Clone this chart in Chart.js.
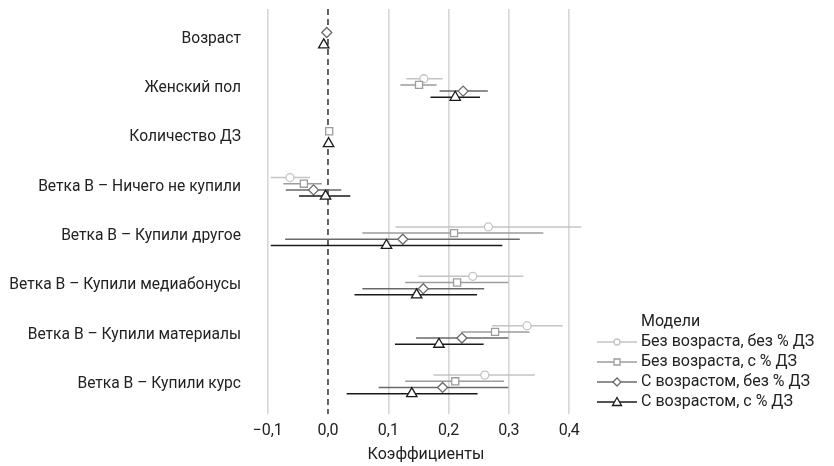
<!DOCTYPE html>
<html>
<head>
<meta charset="utf-8">
<script src="https://cdn.jsdelivr.net/npm/chart.js@4"></script>
<style>
  html, body { margin: 0; padding: 0; background: #fff; }
  #wrap { width: 834px; height: 466px; position: relative; }
</style>
</head>
<body>
<div id="wrap"><canvas id="chart"></canvas></div>
<script>
// categories, top to bottom
const categories = [
  "Возраст",
  "Женский пол",
  "Количество ДЗ",
  "Ветка В – Ничего не купили",
  "Ветка В – Купили другое",
  "Ветка В – Купили медиабонусы",
  "Ветка В – Купили материалы",
  "Ветка В – Купили курс",
];
const xTicks = [-0.1, 0, 0.1, 0.2, 0.3, 0.4];

// model 1: без возраста, без % ДЗ
const m1Est = [null, 0.159, null, -0.063, 0.266, 0.240, 0.330, 0.260];
const m1Lo  = [null, 0.130, null, -0.095, 0.112, 0.150, 0.272, 0.175];
const m1Hi  = [null, 0.190, null, -0.030, 0.420, 0.324, 0.389, 0.343];
// model 2: без возраста, с % ДЗ
const m2Est = [null, 0.151, 0.002, -0.040, 0.209, 0.214, 0.277, 0.211];
const m2Lo  = [null, 0.120, 0.000, -0.074, 0.057, 0.128, 0.221, 0.128];
const m2Hi  = [null, 0.180, 0.004, -0.010, 0.357, 0.299, 0.334, 0.292];
// model 3: с возрастом, без % ДЗ
const m3Est = [-0.002, 0.224, null, -0.024, 0.124, 0.158, 0.222, 0.190];
const m3Lo  = [-0.004, 0.185, null, -0.070, -0.071, 0.057, 0.146, 0.084];
const m3Hi  = [0.000, 0.265, null, 0.022, 0.318, 0.259, 0.299, 0.299];
// model 4: с возрастом, с % ДЗ
const m4Est = [-0.007, 0.211, 0.001, -0.004, 0.097, 0.147, 0.184, 0.139];
const m4Lo  = [-0.009, 0.170, -0.001, -0.048, -0.095, 0.044, 0.111, 0.031];
const m4Hi  = [-0.005, 0.252, 0.003, 0.037, 0.289, 0.247, 0.258, 0.248];

const legendTitle = "Модели";
const modelNames = ["Без возраста, без % ДЗ", "Без возраста, с % ДЗ", "С возрастом, без % ДЗ", "С возрастом, с % ДЗ"];

const FONT = "Roboto, 'Liberation Sans', sans-serif";
const models = [
  { est: m1Est, lo: m1Lo, hi: m1Hi, color: "#c4c4c4", style: "circle", r: 4 },
  { est: m2Est, lo: m2Lo, hi: m2Hi, color: "#9c9c9c", style: "rect", r: 5 },
  { est: m3Est, lo: m3Lo, hi: m3Hi, color: "#6a6a6a", style: "rectRot", r: 5 },
  { est: m4Est, lo: m4Lo, hi: m4Hi, color: "#1a1a1a", style: "triangle", r: 6 },
];

// vertical dodge inside each category (like position_dodge)
const DODGE = 0.5;
function dodgeY(catIdx, modelIdx) {
  const present = models.map((m, k) => m.est[catIdx] !== null ? k : -1).filter(k => k >= 0);
  const n = present.length, pos = present.indexOf(modelIdx);
  return catIdx + (pos - (n - 1) / 2) * (DODGE / n);
}

function buildData(m, k) {
  const out = [];
  categories.forEach((c, i) => {
    if (m.est[i] === null) return;
    const y = dodgeY(i, k);
    out.push({ x: m.lo[i], y, kind: "ci" }, { x: m.est[i], y, kind: "est" }, { x: m.hi[i], y, kind: "ci" }, { x: null, y: null });
  });
  return out;
}

// little legend key: line with the marker in the middle
function legendKey(m) {
  const c = document.createElement("canvas");
  c.width = 40; c.height = 12;
  if (!m) return c;
  const g = c.getContext("2d");
  g.strokeStyle = m.color; g.lineWidth = 1.3;
  g.beginPath(); g.moveTo(0, 6); g.lineTo(40, 6); g.stroke();
  g.fillStyle = "#fff";
  g.beginPath();
  if (m.style === "circle") g.arc(20, 6, 3, 0, Math.PI * 2);
  else if (m.style === "rect") g.rect(17, 3, 6, 6);
  else if (m.style === "rectRot") { g.moveTo(20, 2); g.lineTo(24, 6); g.lineTo(20, 10); g.lineTo(16, 6); g.closePath(); }
  else { g.moveTo(20, 1.5); g.lineTo(24.5, 9.5); g.lineTo(15.5, 9.5); g.closePath(); }
  g.fill(); g.stroke();
  return c;
}

const datasets = models.map((m, k) => ({
  label: modelNames[k],
  data: buildData(m, k),
  showLine: true,
  spanGaps: false,
  borderColor: m.color,
  borderWidth: 1.5,
  pointStyle: m.style,
  pointRadius: (ctx) => (ctx.raw && ctx.raw.kind === "est" ? m.r : 0),
  pointBackgroundColor: "#fff",
  pointBorderColor: m.color,
  pointBorderWidth: 1.3,
  order: 4 - k,
}));

datasets.push({
  label: "zero",
  data: [{ x: 0, y: -0.6 }, { x: 0, y: categories.length - 0.4 }],
  showLine: true,
  borderColor: "#111",
  borderWidth: 1.3,
  borderDash: [6, 4],
  pointRadius: 0,
  order: 10,
});

// fixed legend width so the plot ends where the reference panel ends
const legendWidth = {
  id: "legendWidth",
  beforeUpdate(chart) {
    const lg = chart.legend;
    if (!lg || lg._wrapped) return;
    const fit = lg.fit;
    lg.fit = function () { fit.call(this); this.width = 237; };
    lg._wrapped = true;
  },
};

Chart.defaults.font.family = FONT;
Chart.defaults.font.size = 16;
Chart.defaults.color = "#222";

new Chart(document.getElementById("chart"), {
  type: "scatter",
  data: { datasets },
  plugins: [legendWidth],
  options: {
    responsive: true,
    maintainAspectRatio: false,
    animation: false,
    events: [],
    layout: { padding: { top: 9, right: 0, bottom: 0, left: 0 } },
    plugins: {
      tooltip: { enabled: false },
      legend: {
        position: "right",
        align: "end",
        fullSize: false,
        labels: {
          usePointStyle: true,
          pointStyleWidth: 32,
          padding: 4,
          color: "#222",
          font: { size: 16 },
          generateLabels: () => [{ text: legendTitle, pointStyle: legendKey(null), lineWidth: 0, hidden: false, fontColor: "#222" }]
            .concat(models.map((m, k) => ({
              text: modelNames[k],
              datasetIndex: k,
              pointStyle: legendKey(m),
              fillStyle: "#fff",
              strokeStyle: m.color,
              lineWidth: 0,
              hidden: false,
              fontColor: "#222",
            }))),
        },
      },
    },
    scales: {
      x: {
        type: "linear",
        min: -0.121,
        max: 0.446,
        afterBuildTicks: (s) => { s.ticks = xTicks.map(v => ({ value: v })); },
        afterFit: (s) => { s.height = 52; },
        ticks: {
          padding: 7,
          color: "#222",
          font: { size: 16 },
          callback: (v) => (v < 0 ? "−" : "") + Math.abs(v).toFixed(1).replace(".", ","),
        },
        grid: {
          drawTicks: false,
          lineWidth: 1.6,
          color: (ctx) => (ctx.tick && Math.abs(ctx.tick.value) < 1e-9 ? "rgba(0,0,0,0)" : "#d6d6d6"),
        },
        border: { display: false },
        title: { display: true, text: "Коэффициенты", color: "#222", font: { size: 16 }, padding: { top: 0, bottom: 1 } },
      },
      y: {
        type: "linear",
        reverse: true,
        min: -0.6,
        max: categories.length - 0.4,
        afterBuildTicks: (s) => { s.ticks = categories.map((c, i) => ({ value: i })); },
        afterFit: (s) => { s.width = 255; s.paddingTop = 0; s.paddingBottom = 0; },
        ticks: {
          padding: 14,
          color: "#222",
          font: { size: 15.6 },
          callback: (v) => categories[v] ?? "",
        },
        grid: { display: false, drawTicks: false },
        border: { display: false },
      },
    },
  },
});
</script>
</body>
</html>
